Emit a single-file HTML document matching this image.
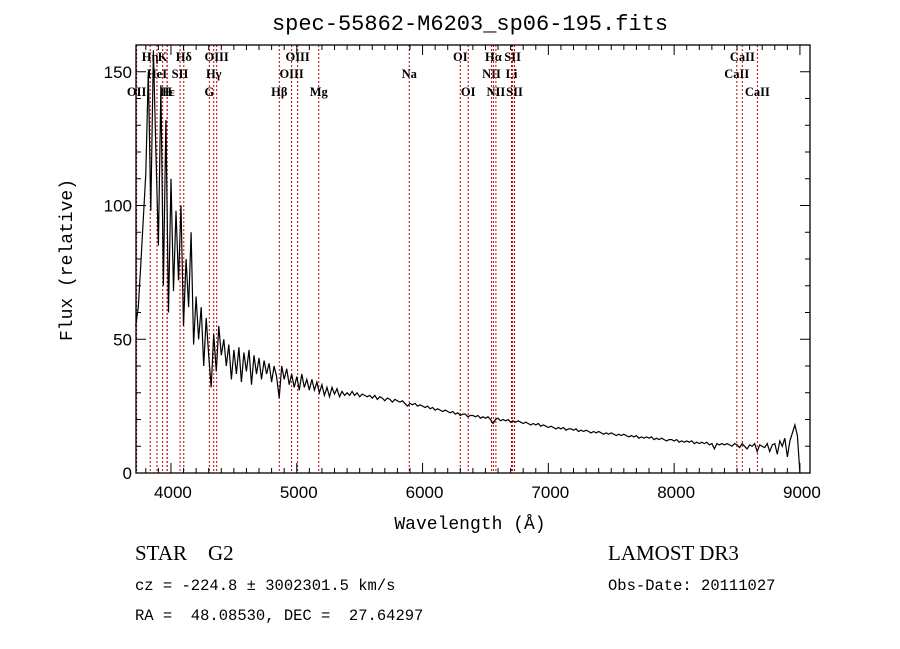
<!DOCTYPE html>
<html><head><meta charset="utf-8"><style>
body{margin:0;background:#fff;}
svg{display:block;}
</style></head><body>
<svg id="chart" width="900" height="649" xmlns="http://www.w3.org/2000/svg">
<rect width="900" height="649" fill="#fff"/>
<text x="470" y="30" font-family="Liberation Mono, monospace" font-size="22" text-anchor="middle">spec-55862-M6203_sp06-195.fits</text>
<g id="lines"></g>
<g id="axes"></g>
<path id="spec" fill="none" stroke="#000" stroke-width="1.2"/>
<rect x="136" y="45" width="674" height="428" fill="none" stroke="#000" stroke-width="1.3"/>
<text x="470" y="529" font-family="Liberation Mono, monospace" font-size="18" text-anchor="middle">Wavelength (Å)</text>
<text transform="translate(72,260) rotate(-90)" font-family="Liberation Mono, monospace" font-size="18" text-anchor="middle">Flux (relative)</text>
<text x="135" y="560" font-family="Liberation Serif, serif" font-size="21" xml:space="preserve">STAR    G2</text>
<text x="608" y="560" font-family="Liberation Serif, serif" font-size="21">LAMOST DR3</text>
<text x="135" y="590" font-family="Liberation Mono, monospace" font-size="15.5">cz = -224.8 ± 3002301.5 km/s</text>
<text x="608" y="590" font-family="Liberation Mono, monospace" font-size="15.5">Obs-Date: 20111027</text>
<text x="135" y="620" font-family="Liberation Mono, monospace" font-size="15.5" xml:space="preserve">RA =  48.08530, DEC =  27.64297</text>
</svg>
<script>
const waveStart = 3720;
const waveStep = 20;
const flux = [
55,62,78,95,112,150,98,158,120,85,
145,70,132,60,110,68,98,72,100,55,
80,62,90,48,66,50,62,40,58,44,
32,52,38,55,44,50,40,48,35,46,
37,47,34,45,38,46,33,44,37,43,
35,42,37,41,34,40,36,28,40,35,
39,33,37,32,36,31,37,32,35,31,
35,31,34,30,33,29,32,28.5,32,29.5,
31.5,28.5,30.5,29,
30,29,30.5,29,30,28.5,29.5,29,28.5,29,
28,29,27.5,28.5,28,27,28,27.5,26.5,27.5,
27,26.5,27,26,25,26,25.5,26,25,25.5,
25,24.5,25,24,24.5,23.5,24,23.5,23,23.5,
23,22.5,23,22,22.5,21.5,22,22,21,21.5,
21.5,21,21.5,20.5,21,20.5,21,20,18.5,20,
20.5,19.5,20,19.5,20,19,19.5,19,19.5,19,
18.5,19,18.5,18,18.5,18,18.5,17.5,18,17.5,
17,17.5,17,16.5,17,16.5,17,16,16.5,16.5,
16,16.5,15.5,16,15.5,16,15.5,15,15.5,15,
15.5,15,14.5,15,14.5,15,14.5,14,14.5,14,
14.5,14,13.5,14,13.5,14,13,13.5,13,13.5,
13,13.5,12.5,13,12.5,13,12.5,12,12.5,12.5,
12,12.5,11.5,12,11.5,12,11.5,12,11,11.5,
11,11.5,11,11.5,10.5,11,9,11,10.5,11,
10.5,11,10.5,10,11,10.5,9.5,11,10,9,
10.5,10,11,8,10.5,10,9.5,11,8,10.5,
11,7,12,10,13,6,12,15,18,14,
0];
const lineWaves = [3727,3835,3889,3934,3969,3970,4072,4102,4305,4340,4363,4861,4959,5007,5175,5894,6300,6363,6548,6563,6583,6707,6716,6731,8498,8542,8662];
const lineNames = ["OII","Hη","HeI","K","H","Hε","SII","Hδ","G","Hγ","OIII","Hβ","OIII","OIII","Mg","Na","OI","OI","NII","Hα","NII","Li","SII","SII","CaII","CaII","CaII"];
const lineRows = [2,0,1,0,2,2,1,0,2,1,0,2,1,0,2,1,0,2,1,0,2,1,0,2,1,0,2];
const xTicks = [4000,5000,6000,7000,8000,9000];
const yTicks = [0,50,100,150];

const X0=136,X1=810,Y0=473,Y1=45,XMIN=3722,XMAX=9080,YMIN=0,YMAX=160;
function xs(w){return X0+(w-XMIN)/(XMAX-XMIN)*(X1-X0);}
function ys(v){return Y0-(v-YMIN)/(YMAX-YMIN)*(Y0-Y1);}
const NS="http://www.w3.org/2000/svg";
function mk(tag,attrs,parent){const e=document.createElementNS(NS,tag);for(const k in attrs)e.setAttribute(k,attrs[k]);parent.appendChild(e);return e;}

const lg=document.getElementById('lines');
const rowY=[61,78,96];
lineWaves.forEach((w,i)=>{
  const x=xs(w);
  const l=mk('line',{x1:x,x2:x,y1:Y1,y2:Y0,stroke:'#c00000','stroke-width':1,'stroke-dasharray':'2,2'},lg);
  
  
  const t=mk('text',{x:x,y:rowY[lineRows[i]],'text-anchor':'middle','font-family':'Liberation Serif, serif','font-size':12.5,'font-weight':'bold'},lg);
  t.textContent=lineNames[i];
  
  
});

const ax=document.getElementById('axes');
for(let w=3800;w<=9000;w+=100){
  const x=xs(w);const maj=(w%1000===0);const L=maj?10:5;
  mk('line',{x1:x,x2:x,y1:Y0,y2:Y0-L,stroke:'#000'},ax);
  mk('line',{x1:x,x2:x,y1:Y1,y2:Y1+L,stroke:'#000'},ax);
}
xTicks.forEach(w=>{
  const t=mk('text',{x:xs(w)+2,y:Y0+25,'text-anchor':'middle','font-family':'Liberation Sans, sans-serif','font-size':17},ax);
  t.textContent=w;
  
  
});
for(let v=0;v<=160;v+=10){
  const y=ys(v);const maj=(v%50===0);const L=maj?10:5;
  mk('line',{x1:X0,x2:X0+L,y1:y,y2:y,stroke:'#000'},ax);
  mk('line',{x1:X1,x2:X1-L,y1:y,y2:y,stroke:'#000'},ax);
}
yTicks.forEach(v=>{
  const t=mk('text',{x:X0-4,y:ys(v)+6,'text-anchor':'end','font-family':'Liberation Sans, sans-serif','font-size':17},ax);
  t.textContent=v;
  
  
});

let d='';
flux.forEach((f,i)=>{const w=waveStart+i*waveStep;d+=(i?'L':'M')+xs(w).toFixed(1)+','+ys(Math.min(f,YMAX)).toFixed(1);});
document.getElementById('spec').setAttribute('d',d);
</script>
</body></html>
